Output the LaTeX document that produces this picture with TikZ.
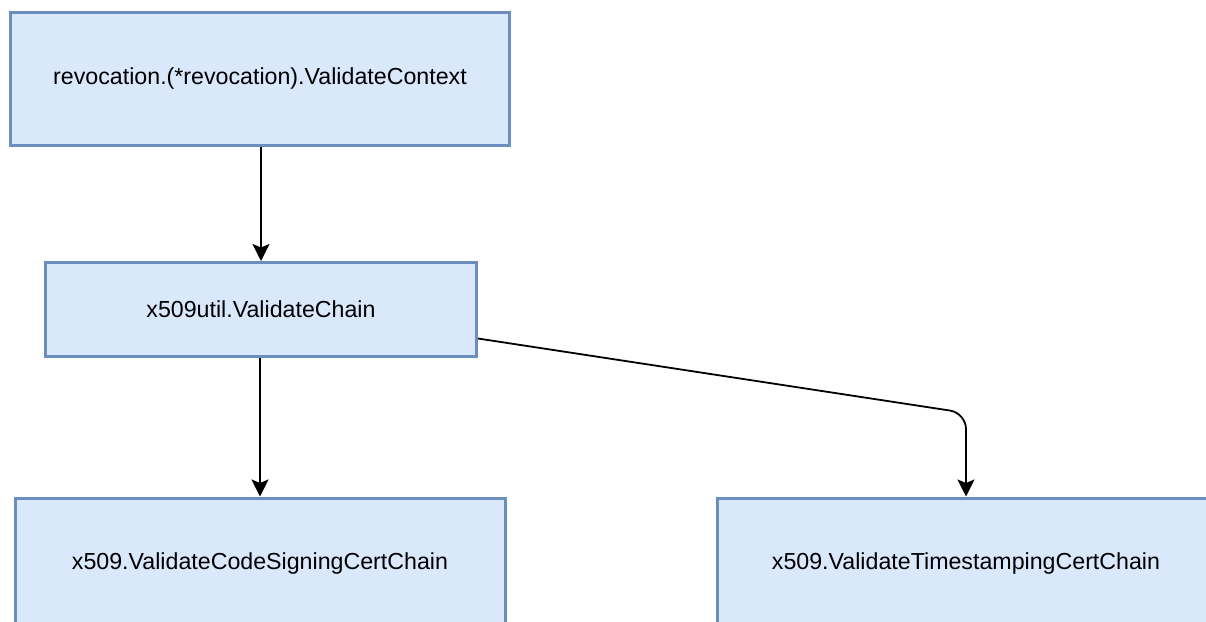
\documentclass[tikz,border=0pt]{standalone}
\usepackage{fontspec}
\setmainfont{Liberation Sans}
\usetikzlibrary{arrows.meta,calc}
\definecolor{boxfill}{HTML}{DAE8FC}
\definecolor{boxline}{HTML}{6C8EBF}
\begin{document}
\begin{tikzpicture}[x=1pt,y=-1pt,
  fnbox/.style={draw=boxline, fill=boxfill, line width=3pt, inner sep=0pt,
    font=\fontsize{23.2}{28}\selectfont},
  call/.style={-{Stealth[length=17pt,width=17pt,inset=3.5pt]}, line width=1.8pt}]
\useasboundingbox (0,0) rectangle (1206,621);
\clip (0,0) rectangle (1206,621);

% call graph boxes
\node[fnbox, minimum width=499pt, minimum height=133pt] (ctx) at (260,78.5)
  {revocation.(*revocation).ValidateContext};
\node[fnbox, minimum width=431pt, minimum height=94pt] (chain) at (261,309.5)
  {x509util.ValidateChain};
\node[fnbox, minimum width=490pt, minimum height=130pt] (code) at (260,563)
  {x509.ValidateCodeSigningCertChain};
\node[fnbox, minimum width=498pt, minimum height=130pt] (tsa) at (966,563)
  {x509.ValidateTimestampingCertChain};

% calls
\coordinate (bend) at (966,413);
\draw[call] (ctx.south -| chain.north) -- (chain.north);
\draw[call] (chain.south -| code.north) -- (code.north);
\draw[call, rounded corners=16pt] ($(chain.east)+(0,29)$) -- (bend) -- (tsa.north);
\end{tikzpicture}
\end{document}
